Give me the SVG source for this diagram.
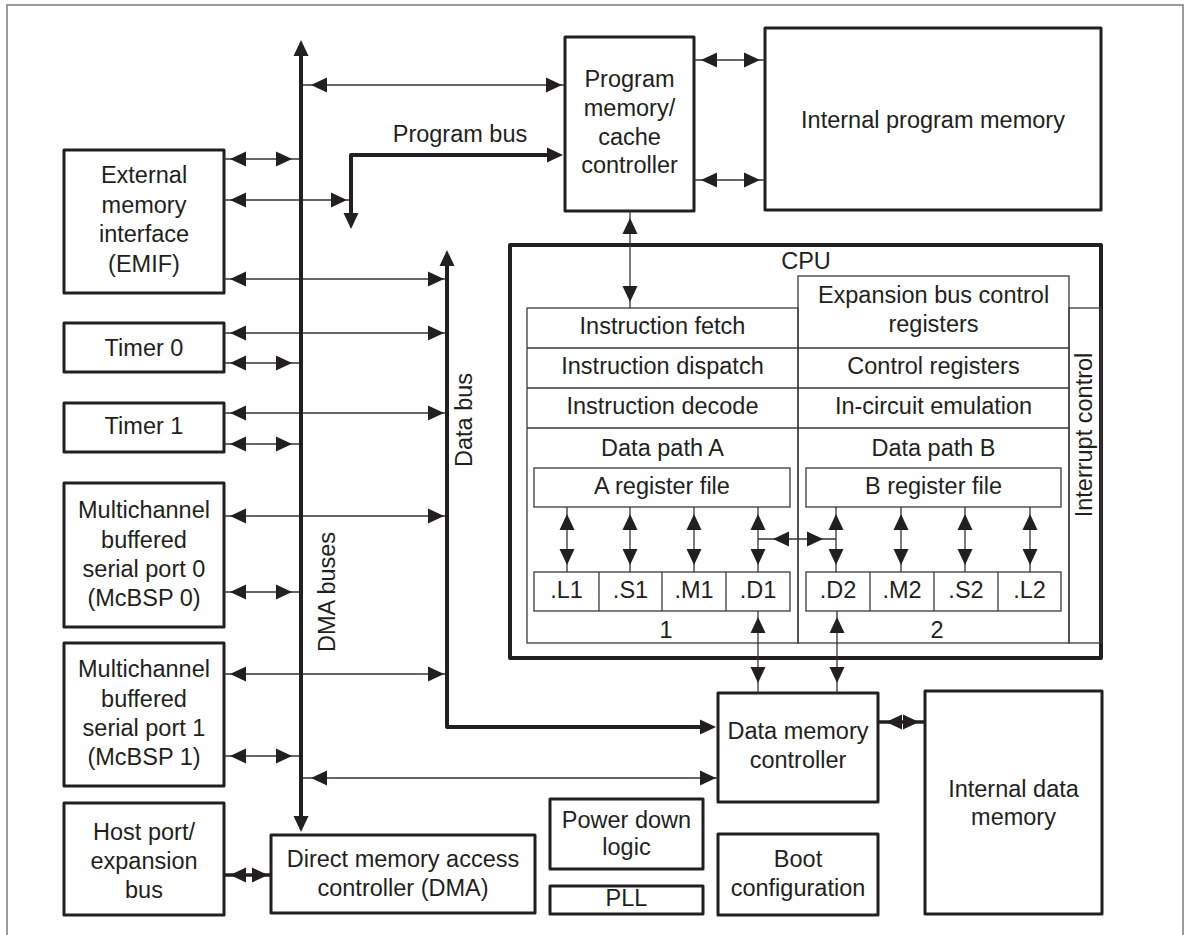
<svg xmlns="http://www.w3.org/2000/svg" xmlns:xlink="http://www.w3.org/1999/xlink" width="1188" height="935" viewBox="0 0 1188 935">
  <style>
    .box{fill:#fff;stroke:#231f20;stroke-width:3;stroke-linejoin:round}
    .cpu{fill:none;stroke:#231f20;stroke-width:4;stroke-linejoin:round}
    .cell{fill:none;stroke:#3a3a3a;stroke-width:1.3}
    .wire{fill:none;stroke:#333;stroke-width:1.3}
    .bus{fill:none;stroke:#231f20;stroke-width:4;stroke-linejoin:round}
    .thick{fill:none;stroke:#231f20;stroke-width:3.5}
    .frame{fill:none;stroke:#7a7a7a;stroke-width:1.5}
    text{font-family:"Liberation Sans",Arial,Helvetica,sans-serif;font-size:23.5px;fill:#231f20;text-anchor:middle}
  </style>
  <defs>
    <!-- arrowheads, tip at the origin -->
    <polygon id="aR" points="0,0 -16,-7.5 -16,7.5" fill="#231f20"/>
    <polygon id="aL" points="0,0 16,-7.5 16,7.5" fill="#231f20"/>
    <polygon id="aU" points="0,0 -7.5,16 7.5,16" fill="#231f20"/>
    <polygon id="aD" points="0,0 -7.5,-16 7.5,-16" fill="#231f20"/>
  </defs>

  <rect width="1188" height="935" fill="#fff"/>
  <path class="frame" d="M7,940 V5 H1183 V940"/>

  <!-- peripheral blocks -->
  <g id="emif">
    <rect class="box" x="64" y="150" width="160" height="143"/>
    <text x="144" y="183">External</text>
    <text x="144" y="212.5">memory</text>
    <text x="144" y="242">interface</text>
    <text x="144" y="271.5">(EMIF)</text>
  </g>
  <g id="timer0">
    <rect class="box" x="64" y="323" width="160" height="49"/>
    <text x="144" y="355.5">Timer 0</text>
  </g>
  <g id="timer1">
    <rect class="box" x="64" y="403" width="160" height="49"/>
    <text x="144" y="434">Timer 1</text>
  </g>
  <g id="mcbsp0">
    <rect class="box" x="64" y="483" width="160" height="144"/>
    <text x="144" y="518">Multichannel</text>
    <text x="144" y="547.5">buffered</text>
    <text x="144" y="577">serial port 0</text>
    <text x="144" y="606">(McBSP 0)</text>
  </g>
  <g id="mcbsp1">
    <rect class="box" x="64" y="643" width="160" height="143"/>
    <text x="144" y="677">Multichannel</text>
    <text x="144" y="706.5">buffered</text>
    <text x="144" y="736">serial port 1</text>
    <text x="144" y="765">(McBSP 1)</text>
  </g>
  <g id="hpi">
    <rect class="box" x="64" y="803" width="160" height="112"/>
    <text x="144" y="840">Host port/</text>
    <text x="144" y="869">expansion</text>
    <text x="144" y="898">bus</text>
  </g>
  <g id="dma">
    <rect class="box" x="271" y="835" width="264" height="78"/>
    <text x="403" y="867">Direct memory access</text>
    <text x="403" y="896">controller (DMA)</text>
  </g>

  <!-- memory side -->
  <g id="pmc">
    <rect class="box" x="565" y="37" width="129" height="174"/>
    <text x="629.5" y="86.5">Program</text>
    <text x="629.5" y="115.5">memory/</text>
    <text x="629.5" y="144.5">cache</text>
    <text x="629.5" y="173">controller</text>
  </g>
  <g id="ipm">
    <rect class="box" x="765" y="28" width="336" height="182"/>
    <text x="933" y="128">Internal program memory</text>
  </g>
  <g id="dmc">
    <rect class="box" x="718" y="693" width="160" height="109"/>
    <text x="798" y="739">Data memory</text>
    <text x="798" y="768">controller</text>
  </g>
  <g id="idm">
    <rect class="box" x="925" y="691" width="177" height="223"/>
    <text x="1013.5" y="797">Internal data</text>
    <text x="1013.5" y="825">memory</text>
  </g>
  <g id="powerdown">
    <rect class="box" x="550" y="799" width="153" height="70"/>
    <text x="626.5" y="828">Power down</text>
    <text x="626.5" y="854.5">logic</text>
  </g>
  <g id="pll">
    <rect class="box" x="550" y="886" width="153" height="28"/>
    <text x="626.5" y="906">PLL</text>
  </g>
  <g id="boot">
    <rect class="box" x="718" y="834" width="160" height="81"/>
    <text x="798" y="867">Boot</text>
    <text x="798" y="896">configuration</text>
  </g>

  <!-- CPU core -->
  <g id="cpu">
    <rect class="cpu" x="510" y="245" width="591" height="413"/>
    <text x="806" y="269">CPU</text>
    <!-- side A column -->
    <rect class="cell" x="527" y="308" width="271" height="335"/>
    <line class="cell" x1="527" y1="348" x2="798" y2="348"/>
    <line class="cell" x1="527" y1="388" x2="798" y2="388"/>
    <line class="cell" x1="527" y1="428" x2="798" y2="428"/>
    <text x="662.5" y="334">Instruction fetch</text>
    <text x="662.5" y="374">Instruction dispatch</text>
    <text x="662.5" y="413.5">Instruction decode</text>
    <text x="662.5" y="455.5">Data path A</text>
    <!-- side B column -->
    <rect class="cell" x="798" y="276" width="271" height="367"/>
    <line class="cell" x1="798" y1="348" x2="1069" y2="348"/>
    <line class="cell" x1="798" y1="388" x2="1069" y2="388"/>
    <line class="cell" x1="798" y1="428" x2="1069" y2="428"/>
    <text x="933.5" y="303">Expansion bus control</text>
    <text x="933.5" y="332">registers</text>
    <text x="933.5" y="374">Control registers</text>
    <text x="933.5" y="413.5">In-circuit emulation</text>
    <text x="933.5" y="455.5">Data path B</text>
    <!-- interrupt control strip -->
    <rect class="cell" x="1069" y="308" width="32" height="335"/>
    <text transform="translate(1092,435) rotate(-90)">Interrupt control</text>
    <!-- register files -->
    <g id="regfile-a">
      <rect class="cell" x="534" y="468" width="256" height="39"/>
      <text x="662" y="494">A register file</text>
    </g>
    <g id="regfile-b">
      <rect class="cell" x="806" y="468" width="255" height="39"/>
      <text x="933.5" y="494">B register file</text>
    </g>
    <!-- functional units -->
    <g id="units-a">
      <rect class="cell" x="534" y="572" width="256" height="39"/>
      <line class="cell" x1="599" y1="572" x2="599" y2="611"/>
      <line class="cell" x1="662" y1="572" x2="662" y2="611"/>
      <line class="cell" x1="726" y1="572" x2="726" y2="611"/>
      <text x="566.5" y="598">.L1</text>
      <text x="630.5" y="598">.S1</text>
      <text x="694" y="598">.M1</text>
      <text x="758" y="598">.D1</text>
      <text x="666" y="638">1</text>
    </g>
    <g id="units-b">
      <rect class="cell" x="806" y="572" width="255" height="39"/>
      <line class="cell" x1="870" y1="572" x2="870" y2="611"/>
      <line class="cell" x1="934" y1="572" x2="934" y2="611"/>
      <line class="cell" x1="998" y1="572" x2="998" y2="611"/>
      <text x="838" y="598">.D2</text>
      <text x="902" y="598">.M2</text>
      <text x="966" y="598">.S2</text>
      <text x="1029.5" y="598">.L2</text>
      <text x="937" y="638">2</text>
    </g>
  </g>

  <!-- connectors -->
  <g id="connectors">
    <!-- peripherals to DMA buses -->
    <line class="wire" x1="224" y1="159" x2="301" y2="159"/>
    <use href="#aL" x="230" y="159"/><use href="#aR" x="292" y="159"/>
    <line class="wire" x1="224" y1="363" x2="301" y2="363"/>
    <use href="#aL" x="230" y="363"/><use href="#aR" x="292" y="363"/>
    <line class="wire" x1="224" y1="444" x2="301" y2="444"/>
    <use href="#aL" x="230" y="444"/><use href="#aR" x="292" y="444"/>
    <line class="wire" x1="224" y1="592" x2="301" y2="592"/>
    <use href="#aL" x="230" y="592"/><use href="#aR" x="292" y="592"/>
    <line class="wire" x1="224" y1="756" x2="301" y2="756"/>
    <use href="#aL" x="230" y="756"/><use href="#aR" x="292" y="756"/>

    <!-- peripherals to data bus -->
    <line class="wire" x1="224" y1="279" x2="447" y2="279"/>
    <use href="#aL" x="230" y="279"/><use href="#aR" x="444" y="279"/>
    <line class="wire" x1="224" y1="333" x2="447" y2="333"/>
    <use href="#aL" x="230" y="333"/><use href="#aR" x="444" y="333"/>
    <line class="wire" x1="224" y1="413" x2="447" y2="413"/>
    <use href="#aL" x="230" y="413"/><use href="#aR" x="444" y="413"/>
    <line class="wire" x1="224" y1="516" x2="447" y2="516"/>
    <use href="#aL" x="230" y="516"/><use href="#aR" x="444" y="516"/>
    <line class="wire" x1="224" y1="674" x2="447" y2="674"/>
    <use href="#aL" x="230" y="674"/><use href="#aR" x="444" y="674"/>

    <!-- EMIF to program bus -->
    <line class="wire" x1="224" y1="200" x2="351" y2="200"/>
    <use href="#aL" x="230" y="200"/><use href="#aR" x="347" y="200"/>

    <!-- DMA buses to program memory controller and data memory controller -->
    <line class="wire" x1="301" y1="85" x2="565" y2="85"/>
    <use href="#aL" x="311" y="85"/><use href="#aR" x="562" y="85"/>
    <line class="wire" x1="301" y1="778" x2="718" y2="778"/>
    <use href="#aL" x="311" y="778"/><use href="#aR" x="716" y="778"/>

    <!-- program memory controller to internal program memory -->
    <line class="wire" x1="694" y1="60" x2="765" y2="60"/>
    <use href="#aL" x="701" y="60"/><use href="#aR" x="760" y="60"/>
    <line class="wire" x1="694" y1="180" x2="765" y2="180"/>
    <use href="#aL" x="701" y="180"/><use href="#aR" x="760" y="180"/>

    <!-- program memory controller to instruction fetch -->
    <line class="wire" x1="630" y1="211" x2="630" y2="308"/>
    <use href="#aU" x="630" y="218"/><use href="#aD" x="630" y="302"/>

    <!-- register files to functional units -->
    <line class="wire" x1="567" y1="507" x2="567" y2="572"/>
    <use href="#aU" x="567" y="514"/><use href="#aD" x="567" y="565"/>
    <line class="wire" x1="630" y1="507" x2="630" y2="572"/>
    <use href="#aU" x="630" y="514"/><use href="#aD" x="630" y="565"/>
    <line class="wire" x1="694" y1="507" x2="694" y2="572"/>
    <use href="#aU" x="694" y="514"/><use href="#aD" x="694" y="565"/>
    <line class="wire" x1="758" y1="507" x2="758" y2="572"/>
    <use href="#aU" x="758" y="514"/><use href="#aD" x="758" y="565"/>
    <line class="wire" x1="836" y1="507" x2="836" y2="572"/>
    <use href="#aU" x="836" y="514"/><use href="#aD" x="836" y="565"/>
    <line class="wire" x1="901" y1="507" x2="901" y2="572"/>
    <use href="#aU" x="901" y="514"/><use href="#aD" x="901" y="565"/>
    <line class="wire" x1="965" y1="507" x2="965" y2="572"/>
    <use href="#aU" x="965" y="514"/><use href="#aD" x="965" y="565"/>
    <line class="wire" x1="1030" y1="507" x2="1030" y2="572"/>
    <use href="#aU" x="1030" y="514"/><use href="#aD" x="1030" y="565"/>

    <!-- cross path between sides -->
    <line class="wire" x1="758" y1="539" x2="836" y2="539"/>
    <use href="#aL" x="773" y="539"/><use href="#aR" x="823" y="539"/>

    <!-- .D units to data memory controller -->
    <line class="wire" x1="758" y1="611" x2="758" y2="693"/>
    <use href="#aU" x="758" y="617"/><use href="#aD" x="758" y="683"/>
    <line class="wire" x1="837" y1="611" x2="837" y2="693"/>
    <use href="#aU" x="837" y="617"/><use href="#aD" x="837" y="683"/>

    <!-- data memory controller to internal data memory -->
    <line class="thick" x1="878" y1="722" x2="925" y2="722"/>
    <use href="#aL" x="886" y="722"/><use href="#aR" x="919" y="722"/>

    <!-- host port to DMA controller -->
    <line class="thick" x1="224" y1="875" x2="271" y2="875"/>
    <use href="#aL" x="230" y="875"/><use href="#aR" x="268" y="875"/>

    <!-- DMA buses -->
    <line class="bus" x1="301" y1="50" x2="301" y2="824"/>
    <use href="#aU" x="301" y="40"/><use href="#aD" x="301" y="832"/>
    <text transform="translate(335,592) rotate(-90)">DMA buses</text>

    <!-- program bus -->
    <path class="bus" d="M351,222 V155 H556"/>
    <use href="#aD" x="351" y="229"/><use href="#aR" x="563" y="155"/>
    <text x="460" y="142">Program bus</text>

    <!-- data bus -->
    <path class="bus" d="M447,258 V727 H709"/>
    <use href="#aU" x="447" y="250"/><use href="#aR" x="716" y="727"/>
    <text transform="translate(472,420) rotate(-90)">Data bus</text>
  </g>
</svg>
